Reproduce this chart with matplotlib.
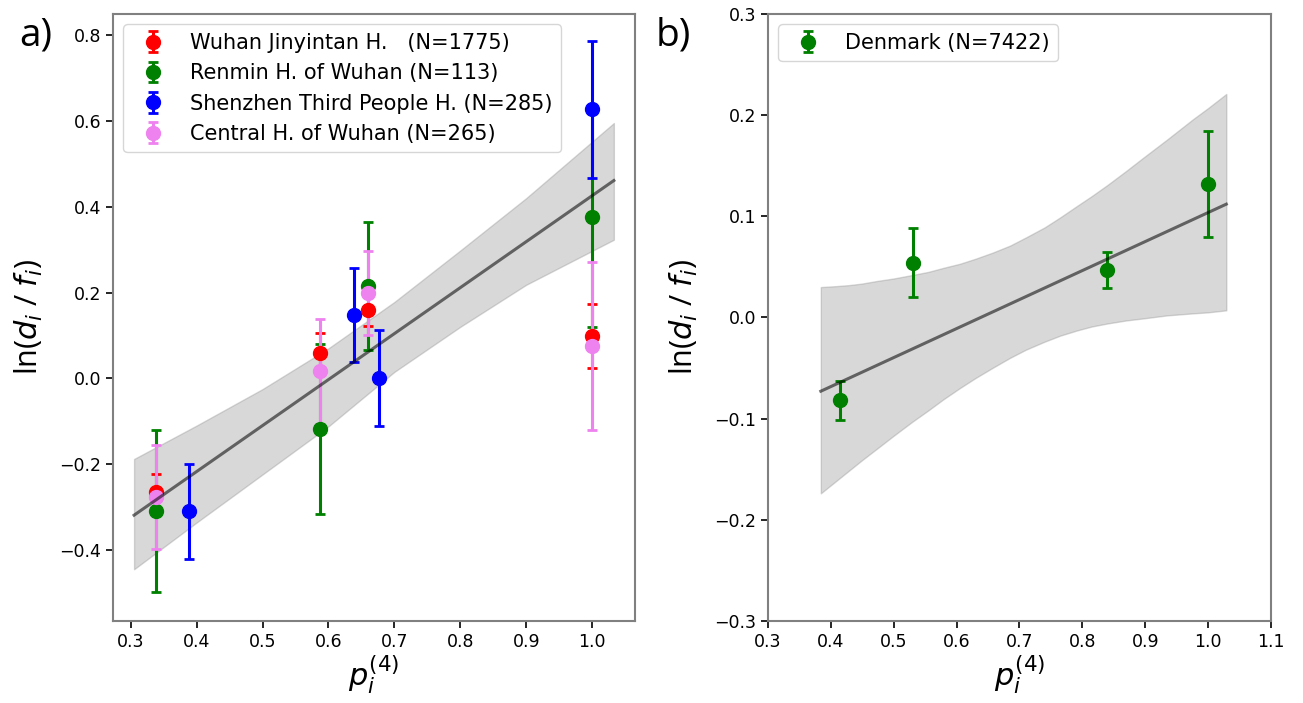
import matplotlib
matplotlib.use('Agg')
import matplotlib.pyplot as plt

plt.rcParams['mathtext.fontset'] = 'dejavusans'

# panel a: hospitals
hosp_labels = ['Wuhan Jinyintan H.   (N=1775)', 'Renmin H. of Wuhan (N=113)',
               'Shenzhen Third People H. (N=285)', 'Central H. of Wuhan (N=265)']
hosp_colors = ['red', 'green', 'blue', 'violet']
hosp_x = [
    [0.338, 0.587, 0.660, 1.0],
    [0.338, 0.587, 0.660, 1.0],
    [0.388, 0.639, 0.676, 1.0],
    [0.338, 0.587, 0.660, 1.0],
]
hosp_y = [
    [-0.265, 0.059, 0.160, 0.099],
    [-0.310, -0.118, 0.215, 0.377],
    [-0.310, 0.147, 0.001, 0.627],
    [-0.276, 0.016, 0.199, 0.076],
]
hosp_err = [
    [0.041, 0.047, 0.039, 0.075],
    [0.189, 0.199, 0.149, 0.258],
    [0.111, 0.110, 0.111, 0.160],
    [0.121, 0.122, 0.098, 0.196],
]
# fit line and band
fit_a_x = [0.305, 1.033]
fit_a_y = [-0.319, 0.461]
band_a_x = [0.305, 0.40, 0.50, 0.60, 0.70, 0.80, 0.90, 1.033]
band_a_hi = [-0.188, -0.110, -0.025, 0.070, 0.178, 0.298, 0.420, 0.595]
band_a_lo = [-0.445, -0.336, -0.224, -0.112, 0.015, 0.120, 0.218, 0.323]

# panel b: Denmark
dk_label = 'Denmark (N=7422)'
dk_x = [0.414, 0.530, 0.840, 1.0]
dk_y = [-0.082, 0.054, 0.047, 0.132]
dk_err = [0.019, 0.034, 0.0175, 0.052]
fit_b_x = [0.384, 1.029]
fit_b_y = [-0.073, 0.112]
band_b_x = [0.384, 0.41, 0.43, 0.45, 0.473, 0.50, 0.53, 0.555, 0.579, 0.605, 0.63, 0.657, 0.685,
            0.71, 0.74, 0.765, 0.791, 0.815, 0.84, 0.87, 0.897, 0.935, 0.976, 1.0, 1.029]
band_b_hi = [0.030, 0.031, 0.032, 0.0335, 0.036, 0.0385, 0.042, 0.045, 0.049, 0.053, 0.058, 0.064, 0.071,
             0.079, 0.089, 0.099, 0.110, 0.120, 0.131, 0.145, 0.158, 0.176, 0.196, 0.207, 0.221]
band_b_lo = [-0.174, -0.161, -0.151, -0.141, -0.130, -0.117, -0.103, -0.092, -0.081, -0.070, -0.060,
             -0.050, -0.040, -0.032, -0.024, -0.018, -0.013, -0.009, -0.006, -0.003, -0.001, 0.002,
             0.004, 0.005, 0.007]

fig = plt.figure(figsize=(13.03, 7.03), dpi=100)
ax_a = fig.add_axes([0.0867, 0.117, 0.4006, 0.863])
ax_b = fig.add_axes([0.5894, 0.117, 0.3860, 0.863])

eb_kw = dict(fmt='o', markersize=10, elinewidth=2.2, capsize=3.5, capthick=2)

# panel a
ax_a.fill_between(band_a_x, band_a_lo, band_a_hi, color='gray', alpha=0.3, zorder=1)
for lab, col, xs, ys, es in zip(hosp_labels, hosp_colors, hosp_x, hosp_y, hosp_err):
    ax_a.errorbar(xs, ys, yerr=es, color=col, label=lab, zorder=2, **eb_kw)
ax_a.plot(fit_a_x, fit_a_y, color='k', alpha=0.55, lw=2.2, zorder=3)
ax_a.set_xlim(0.273, 1.065)
ax_a.set_ylim(-0.565, 0.849)
ax_a.set_xticks([0.3, 0.4, 0.5, 0.6, 0.7, 0.8, 0.9, 1.0])
ax_a.set_yticks([-0.4, -0.2, 0.0, 0.2, 0.4, 0.6, 0.8])
ax_a.legend(loc='upper left', fontsize=15, borderaxespad=0.5)

# panel b
ax_b.fill_between(band_b_x, band_b_lo, band_b_hi, color='gray', alpha=0.3, zorder=1)
ax_b.errorbar(dk_x, dk_y, yerr=dk_err, color='green', label=dk_label, zorder=2, **eb_kw)
ax_b.plot(fit_b_x, fit_b_y, color='k', alpha=0.55, lw=2.2, zorder=3)
ax_b.set_xlim(0.3, 1.1)
ax_b.set_ylim(-0.3, 0.3)
ax_b.set_xticks([0.3, 0.4, 0.5, 0.6, 0.7, 0.8, 0.9, 1.0, 1.1])
ax_b.set_yticks([-0.3, -0.2, -0.1, 0.0, 0.1, 0.2, 0.3])
ax_b.legend(loc='upper left', fontsize=15, borderaxespad=0.5)

for ax in (ax_a, ax_b):
    for sp in ax.spines.values():
        sp.set_color('0.5')
        sp.set_linewidth(1.5)
    ax.tick_params(labelsize=12.5, length=5, width=1.2)
    ax.set_xlabel(r'$p_i^{(4)}$', fontsize=22, labelpad=2)
    ax.set_ylabel(r'ln($d_i$ / $f_i$)', fontsize=22, family='Open Sans', labelpad=10)

fig.text(0.015, 0.935, 'a)', fontsize=28, family='Open Sans')
fig.text(0.503, 0.935, 'b)', fontsize=28, family='Open Sans')

fig.savefig('out.png', dpi=100)
